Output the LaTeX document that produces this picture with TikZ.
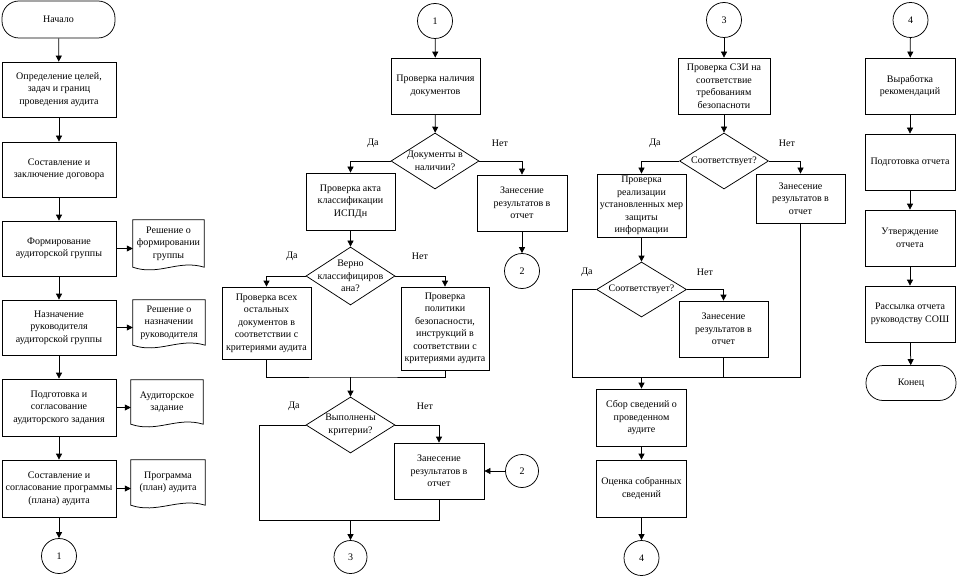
\documentclass[tikz,border=0pt]{standalone}
\usepackage{fontspec}
\setmainfont{Liberation Serif}
\usetikzlibrary{arrows.meta,shapes.geometric}
\newcommand\docwave[1]{\draw[line] (#1.south west) -- (#1.north west) -- (#1.north east) -- (#1.south east) .. controls ([shift={(-26pt,8pt)}]#1.south east) and ([shift={(26pt,-9pt)}]#1.south west) .. (#1.south west) -- cycle;}
\begin{document}
\begin{tikzpicture}[x=1pt,y=-1pt,
  every node/.style={font=\fontsize{10}{12.5}\selectfont},
  line/.style={line width=0.75pt,black},
  arr/.style={line,-{Triangle[length=6pt,width=6pt]}},
  box/.style={draw,line width=0.75pt,rectangle,inner sep=0pt,align=center},
  term/.style={box,rounded corners=17pt},
  conn/.style={draw,line width=0.75pt,circle,inner sep=0pt,minimum size=35pt},
  dia/.style={draw,line width=0.75pt,diamond,inner sep=0pt},
  dtxt/.style={align=center,inner sep=0pt},
  lbl/.style={inner sep=0pt},
  doc/.style={inner sep=0pt,align=center},
]
\useasboundingbox (0,0) rectangle (957,580);

% ---------- left column ----------
\node[term,minimum width=113pt,minimum height=37pt] (start) at (58.5,19.5) {Начало};
\node[box,minimum width=114pt,minimum height=55pt] (b1) at (59,89.5) {Определение целей,\\задач и границ\\проведения аудита};
\node[box,minimum width=114pt,minimum height=55pt] (b2) at (59,169.5) {Составление и\\заключение договора};
\node[box,minimum width=114pt,minimum height=55pt] (b3) at (59,248.5) {Формирование\\аудиторской группы};
\node[box,minimum width=114pt,minimum height=55pt] (b4) at (59,327.5) {Назначение\\руководителя\\аудиторской группы};
\node[box,minimum width=114pt,minimum height=57pt] (b5) at (59,407.5) {Подготовка и\\согласование\\аудиторского задания};
\node[box,minimum width=114pt,minimum height=57pt] (b6) at (59,488.5) {Составление и\\согласование программы\\(плана) аудита};
\node[conn] (c1) at (59,556) {1};

\node[doc,minimum width=71pt,minimum height=47pt] (doc1) at (168.5,243.5) {Решение о\\формировании\\группы};
\node[doc,minimum width=72pt,minimum height=45pt] (doc2) at (169,322.5) {Решение о\\назначении\\руководителя};
\node[doc,minimum width=72pt,minimum height=44pt] (doc3) at (167,402) {Аудиторское\\задание};
\node[doc,minimum width=74pt,minimum height=45pt] (doc4) at (168,482.5) {Программа\\(план) аудита};
\docwave{doc1}\docwave{doc2}\docwave{doc3}\docwave{doc4}

\draw[arr] (start) -- (b1);
\draw[arr] (b1) -- (b2);
\draw[arr] (b2) -- (b3);
\draw[arr] (b3) -- (b4);
\draw[arr] (b4) -- (b5);
\draw[arr] (b5) -- (b6);
\draw[arr] (b6) -- (c1);
\draw[arr] (b3.east) -- (b3.east -| doc1.west);
\draw[arr] (b4.east) -- (b4.east -| doc2.west);
\draw[arr] (b5.east) -- (b5.east -| doc3.west);
\draw[arr] (b6.east) -- (b6.east -| doc4.west);

% ---------- middle column ----------
\node[conn] (c1m) at (435,21) {1};
\node[box,minimum width=89pt,minimum height=56pt] (m1) at (435.5,86) {Проверка наличия\\документов};
\node[dia,minimum width=88pt,minimum height=56pt] (d1) at (435,161) {};
\node[dtxt] (d1t) at (d1.center) {Документы в\\наличии?};
\node[lbl] (l1) at (373,143) {Да};
\node[lbl] (l2) at (500,143) {Нет};
\node[box,minimum width=89pt,minimum height=57pt] (m2) at (350.5,201.5) {Проверка акта\\классификации\\ИСПДн};
\node[box,minimum width=90pt,minimum height=56pt] (m3) at (522,203) {Занесение\\результатов в\\отчет};
\node[conn] (c2a) at (522,271) {2};
\node[dia,minimum width=89pt,minimum height=58pt] (d2) at (350.5,276) {};
\node[dtxt] (d2t) at (d2.center) {Верно\\классифициров\\ана?};
\node[lbl] (l3) at (292,256) {Да};
\node[lbl] (l4) at (420,256) {Нет};
\node[box,minimum width=89pt,minimum height=72pt] (m4) at (266.5,323) {Проверка всех\\остальных\\документов в\\соответствии с\\критериями аудита};
\node[box,minimum width=88pt,minimum height=83pt] (m5) at (445,328.5) {Проверка\\политики\\безопасности,\\инструкций в\\соответствии с\\критериями аудита};
\coordinate (j1) at (350.5,377);
\node[dia,minimum width=89pt,minimum height=56pt] (d3) at (350.5,425) {};
\node[dtxt] (d3t) at (d3.center) {Выполнены\\критерии?};
\node[lbl] (l5) at (294,406) {Да};
\node[lbl] (l6) at (425,406) {Нет};
\node[box,minimum width=90pt,minimum height=56pt] (m6) at (439,471) {Занесение\\результатов в\\отчет};
\node[conn,minimum size=33pt] (c2b) at (522,471) {2};
\coordinate (j2) at (259,520);
\coordinate (j3) at (350.5,520);
\node[conn,minimum size=33pt] (c3m) at (350.5,557) {3};

\draw[arr] (c1m) -- (m1);
\draw[arr] (m1) -- (d1);
\draw[arr] (d1.west) -| (m2.north);
\draw[arr] (d1.east) -| (m3.north);
\draw[arr] (m3) -- (c2a);
\draw[arr] (m2) -- (d2);
\draw[arr] (d2.west) -| (m4.north);
\draw[arr] (d2.east) -| (m5.north);
\draw[line] (m4.south) |- (j1) -| (m5.south);
\draw[arr] (j1) -- (d3.north);
\draw[arr] (d3.east) -| (m6.north);
\draw[arr] (c2b) -- (m6.east);
\draw[line] (d3.west) -| (j2) -| (m6.south);
\draw[arr] (j3) -- (c3m);

% ---------- right column ----------
\node[conn] (c3r) at (724,20) {3};
\node[box,minimum width=92pt,minimum height=56pt] (r1) at (724,86) {Проверка СЗИ на\\соответствие\\требованиям\\безопасноти};
\node[dia,minimum width=89pt,minimum height=56pt] (d4) at (724,161) {};
\node[dtxt] (d4t) at (d4.center) {Соответствует?};
\node[lbl] (l7) at (655,143) {Да};
\node[lbl] (l8) at (787,143) {Нет};
\node[box,minimum width=89pt,minimum height=63pt] (r2) at (641.5,205.5) {Проверка\\реализации\\установленных мер\\защиты\\информации};
\node[box,minimum width=89pt,minimum height=49pt] (r3) at (800.5,198.5) {Занесение\\результатов в\\отчет};
\node[dia,minimum width=90pt,minimum height=55pt] (d5) at (641.5,289.5) {};
\node[dtxt] (d5t) at (d5.center) {Соответствует?};
\node[lbl] (l9) at (587,272) {Да};
\node[lbl] (l10) at (705,272) {Нет};
\node[box,minimum width=89pt,minimum height=56pt] (r4) at (723.5,329) {Занесение\\результатов в\\отчет};
\coordinate (k1) at (572,377);
\coordinate (k0) at (641.5,377);
\node[box,minimum width=90pt,minimum height=57pt] (r5) at (641.5,417.5) {Сбор сведений о\\проведенном\\аудите};
\node[box,minimum width=90pt,minimum height=57pt] (r6) at (641.5,488.5) {Оценка собранных\\сведений};
\node[conn] (c4r) at (641.5,558) {4};

\draw[arr] (c3r) -- (r1);
\draw[arr] (r1) -- (d4);
\draw[arr] (d4.west) -| (r2.north);
\draw[arr] (d4.east) -| (r3.north);
\draw[arr] (r2) -- (d5);
\draw[arr] (d5.east) -| (r4.north);
\draw[line] (d5.west) -| (k1) -| (r3.south);
\draw[line] (r4.south) -- (r4.south |- k1);
\draw[arr] (k0) -- (r5.north);
\draw[arr] (r5) -- (r6);
\draw[arr] (r6) -- (c4r);

% ---------- far right column ----------
\node[conn] (c4) at (910.5,20) {4};
\node[box,minimum width=90pt,minimum height=56pt] (f1) at (910,86) {Выработка\\рекомендаций};
\node[box,minimum width=90pt,minimum height=56pt] (f2) at (910,162) {Подготовка отчета};
\node[box,minimum width=90pt,minimum height=56pt] (f3) at (910,238) {Утверждение\\отчета};
\node[box,minimum width=90pt,minimum height=56pt] (f4) at (910,314) {Рассылка отчета\\руководству СОШ};
\node[term,minimum width=90pt,minimum height=35pt] (end) at (911,383) {Конец};

\draw[arr] (c4) -- (f1);
\draw[arr] (f1) -- (f2);
\draw[arr] (f2) -- (f3);
\draw[arr] (f3) -- (f4);
\draw[arr] (f4) -- (end);
\end{tikzpicture}
\end{document}
